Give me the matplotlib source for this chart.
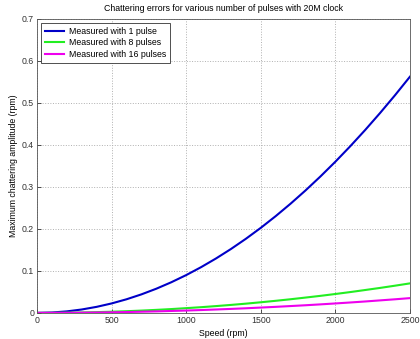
import matplotlib
matplotlib.use("Agg")
import matplotlib.pyplot as plt

# Datos (velocidad en rpm, amplitud en rpm)
velocidad = [0, 100, 200, 300, 400, 500, 600, 700, 800, 900, 1000, 1100, 1200,
             1300, 1400, 1500, 1600, 1700, 1800, 1900, 2000, 2100, 2200, 2300,
             2400, 2500]
pulso_1 = [0, 0.0009, 0.0036, 0.0081, 0.0144, 0.0225, 0.0324, 0.0441, 0.0576,
           0.0729, 0.09, 0.1089, 0.1296, 0.1521, 0.1764, 0.2025, 0.2304, 0.2601,
           0.2916, 0.3249, 0.36, 0.3969, 0.4356, 0.4761, 0.5184, 0.5625]
pulsos_8 = [0, 0.0001, 0.0005, 0.001, 0.0018, 0.0028, 0.004, 0.0055, 0.0072,
            0.0091, 0.0113, 0.0136, 0.0162, 0.019, 0.022, 0.0253, 0.0288, 0.0325,
            0.0365, 0.0406, 0.045, 0.0496, 0.0545, 0.0595, 0.0648, 0.0703]
pulsos_16 = [0, 0.0001, 0.0002, 0.0005, 0.0009, 0.0014, 0.002, 0.0028, 0.0036,
             0.0046, 0.0056, 0.0068, 0.0081, 0.0095, 0.011, 0.0127, 0.0144, 0.0163,
             0.0182, 0.0203, 0.0225, 0.0248, 0.0272, 0.0298, 0.0324, 0.0352]
etiquetas = ["Measured with 1 pulse", "Measured with 8 pulses",
             "Measured with 16 pulses"]

plt.rcParams['font.family'] = ['Liberation Sans', 'DejaVu Sans']
plt.rcParams['font.size'] = 6.3

fig = plt.figure(figsize=(4.2, 3.39), dpi=100)
ax = fig.add_axes([0.088, 0.077, 0.888, 0.867])

ax.plot(velocidad, pulso_1, color='#0000c8', lw=1.5, label=etiquetas[0])
ax.plot(velocidad, pulsos_8, color='#22ee22', lw=1.5, label=etiquetas[1])
ax.plot(velocidad, pulsos_16, color='#ee00ee', lw=1.5, label=etiquetas[2])

ax.set_xlim(0, 2500)
ax.set_ylim(0, 0.7)
ax.set_xticks([0, 500, 1000, 1500, 2000, 2500])
ax.set_yticks([0, 0.1, 0.2, 0.3, 0.4, 0.5, 0.6, 0.7])
ax.set_yticklabels(['0', '0.1', '0.2', '0.3', '0.4', '0.5', '0.6', '0.7'])
ax.grid(True, linestyle=':', color='#b0b0b0', lw=0.7)
ax.tick_params(direction='in', length=3, width=0.6, colors='#333333', pad=2)
for lado in ax.spines.values():
    lado.set_color('#555555')
    lado.set_linewidth(0.6)

ax.set_title('Chattering errors for various number of pulses with 20M clock',
             fontsize=6.3, pad=6)
ax.set_xlabel('Speed (rpm)', labelpad=3)
ax.set_ylabel('Maximum chattering amplitude (rpm)', labelpad=3)

leg = ax.legend(loc='upper left', fancybox=False, edgecolor='#333333',
                framealpha=1, borderpad=0.4, handlelength=2.2,
                handletextpad=0.6, labelspacing=0.3, borderaxespad=0.5)
leg.get_frame().set_linewidth(0.6)

fig.savefig('out.png', dpi=100)
